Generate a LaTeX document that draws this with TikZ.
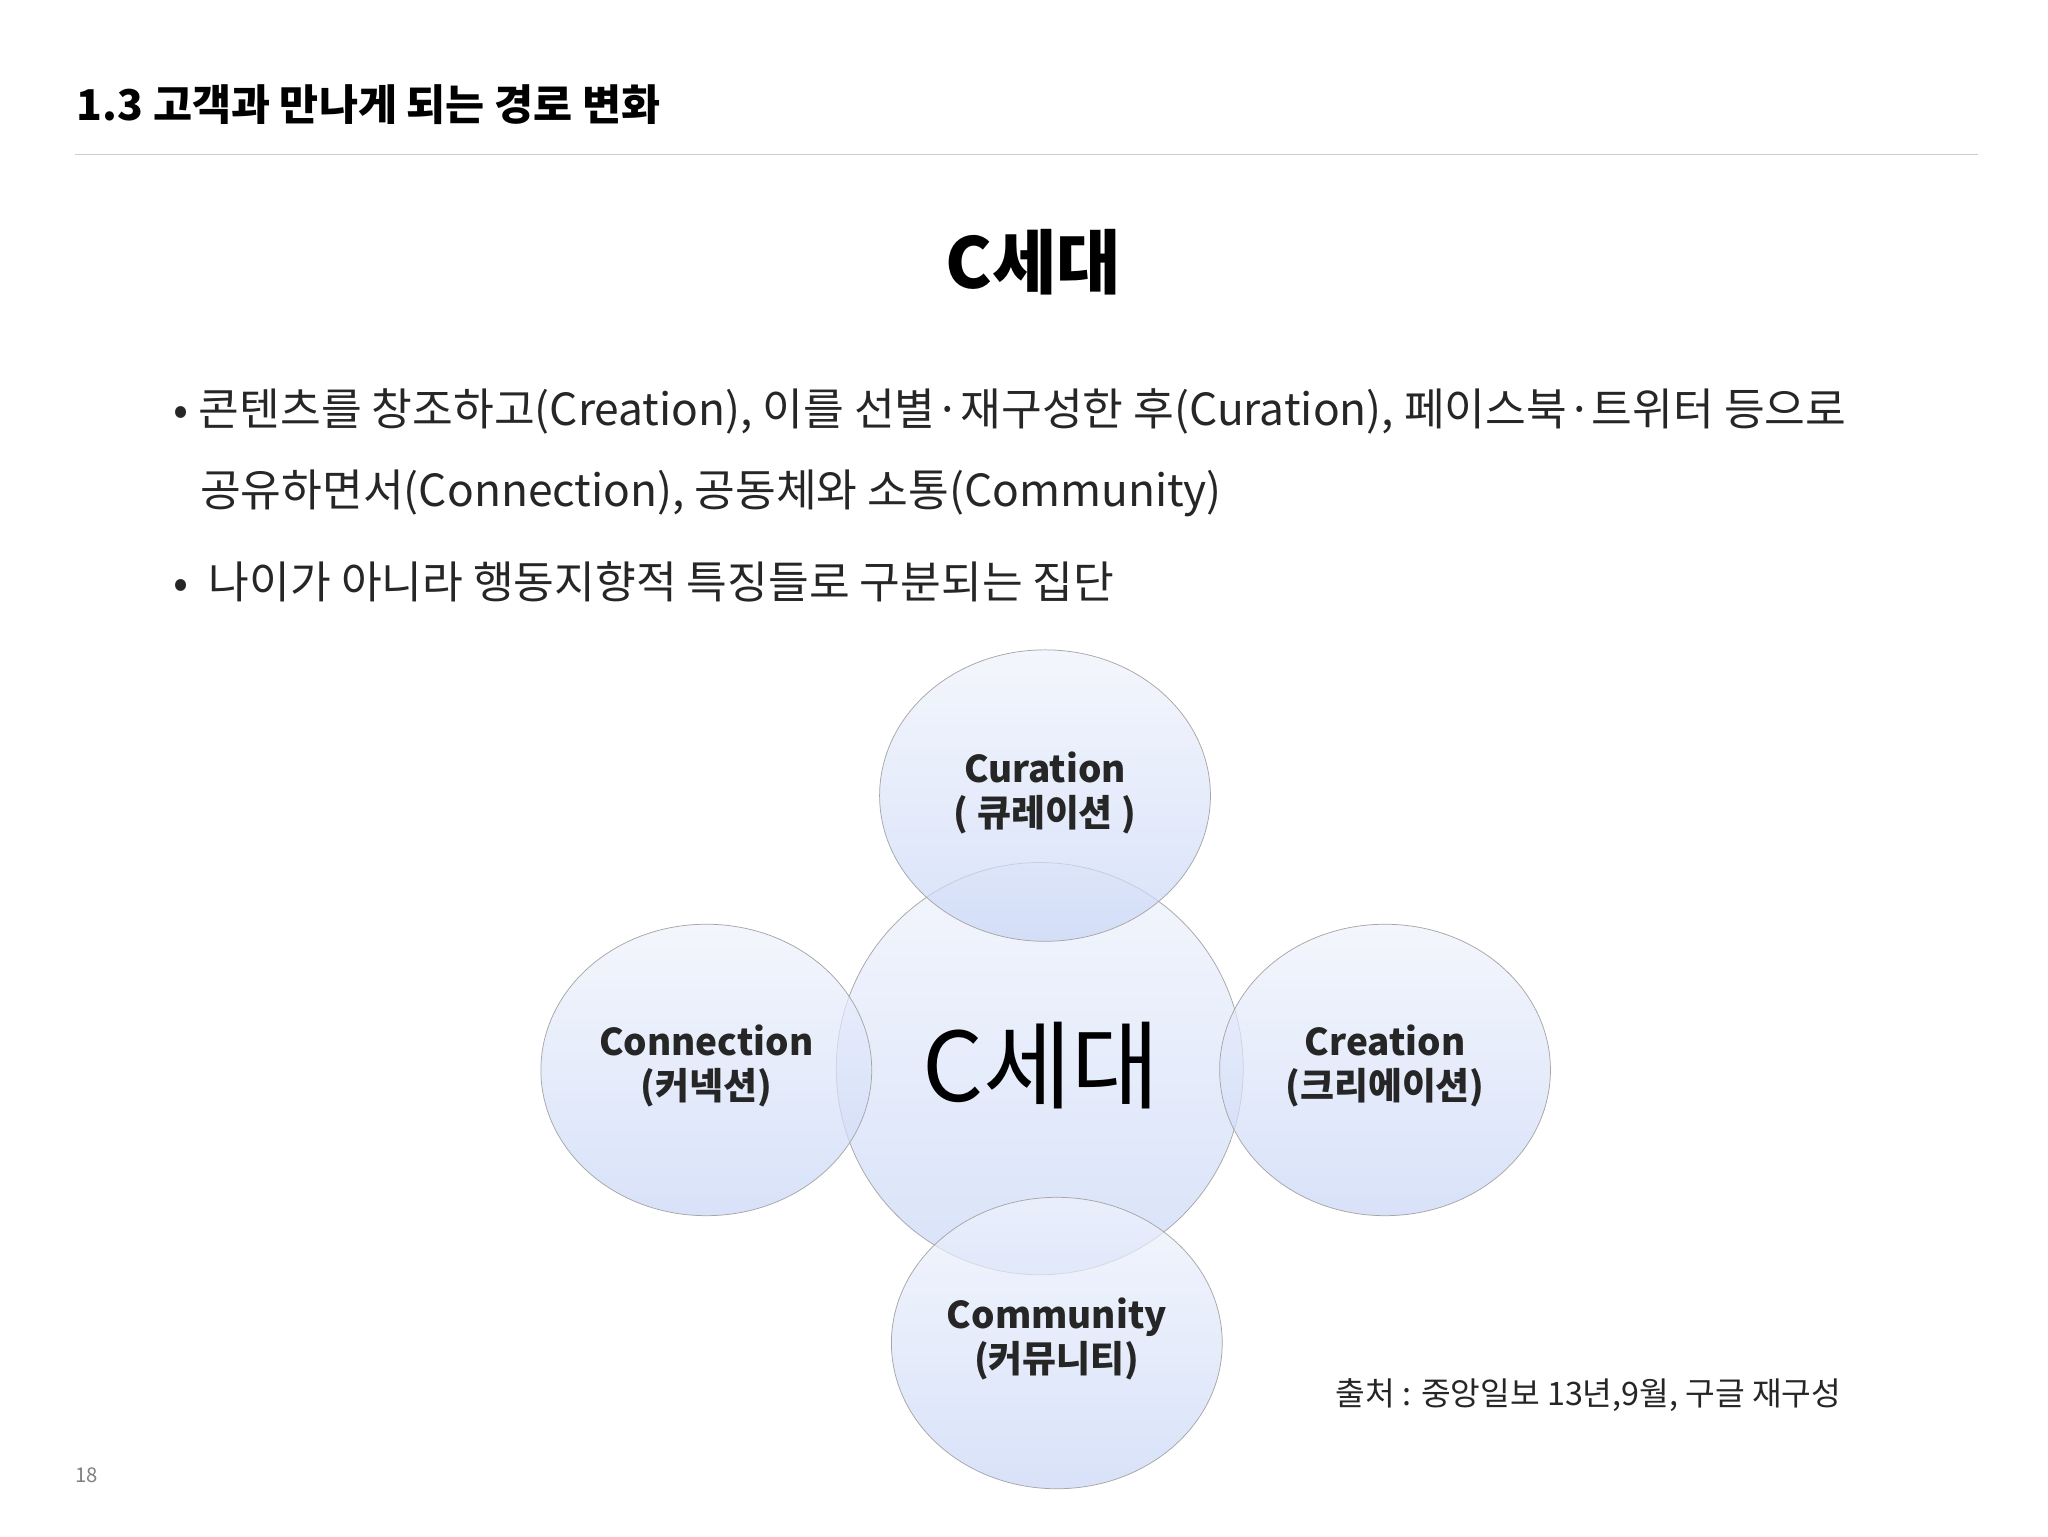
\documentclass[tikz,border=0pt]{standalone}
\usepackage{fontspec}
\setmainfont{Noto Sans CJK KR}
\definecolor{bubtop}{RGB}{240,243,253}
\definecolor{bubbot}{RGB}{200,214,246}
\begin{document}
\begin{tikzpicture}[x=0.05cm,y=-0.05cm,
  bub/.style={top color=bubtop, bottom color=bubbot, fill opacity=0.7},
  edge/.style={draw=gray!70, line width=0.8pt},
  lab/.style={font=\fontsize{40}{48}\selectfont\bfseries, align=center, text=black!85},
  txt/.style={font=\fontsize{48}{54}\selectfont, anchor=west, text=black!85}]
\useasboundingbox[fill=white] (0,0) rectangle (1560,1170);
\node[anchor=west, font=\fontsize{46}{50}\selectfont\bfseries] (title) at (56,80) {1.3 고객과 만나게 되는 경로 변화};
\draw[gray!40, line width=1pt] (57,118) -- (1507,118);
\node[font=\fontsize{76}{80}\selectfont\bfseries] (head) at (787,200) {C세대};
\node[txt] (b1) at (130,313) {• 콘텐츠를 창조하고(Creation), 이를 선별·재구성한 후(Curation), 페이스북·트위터 등으로};
\node[txt] (b1b) at (150,376) {공유하면서(Connection), 공동체와 소통(Community)};
\node[txt] (b2) at (130,443) {•\ \ 나이가 아니라 행동지향적 특징들로 구분되는 집단};
\shade[bub] (792,814) ellipse [x radius=155, y radius=157];
\draw[edge] (792,814) ellipse [x radius=155, y radius=157];
\shade[bub] (796,606) ellipse [x radius=126, y radius=111];
\draw[edge] (796,606) ellipse [x radius=126, y radius=111];
\shade[bub] (538,815) ellipse [x radius=126, y radius=111];
\draw[edge] (538,815) ellipse [x radius=126, y radius=111];
\shade[bub] (1055,815) ellipse [x radius=126, y radius=111];
\draw[edge] (1055,815) ellipse [x radius=126, y radius=111];
\shade[bub] (805,1023) ellipse [x radius=126, y radius=111];
\draw[edge] (805,1023) ellipse [x radius=126, y radius=111];
\node[font=\fontsize{104}{110}\selectfont] (c) at (793,812) {C세대};
\node[lab] (cur) at (796,604) {Curation\\( 큐레이션 )};
\node[lab] (con) at (538,812) {Connection\\(커넥션)};
\node[lab] (cre) at (1055,812) {Creation\\(크리에이션)};
\node[lab] (com) at (805,1020) {Community\\(커뮤니티)};
\node[anchor=west, font=\fontsize{35}{38}\selectfont, text=black!85] (src) at (1015,1063) {출처 : 중앙일보 13년,9월, 구글 재구성};
\node[anchor=west, font=\fontsize{22}{24}\selectfont, text=gray] (pg) at (55,1124) {18};
\end{tikzpicture}
\end{document}
